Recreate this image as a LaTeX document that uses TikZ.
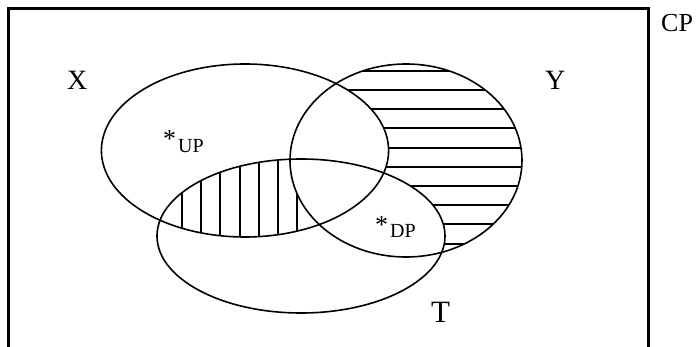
\documentclass[tikz,border=0pt]{standalone}
\usepackage{fontspec}
\setmainfont{Liberation Serif}

% the three sets
\def\setX{(245,150.5) ellipse [x radius=143.6, y radius=86.5]}
\def\setY{(406,160.5) ellipse [x radius=116, y radius=96.5]}
\def\setT{(301,236) ellipse [x radius=144, y radius=77]}
\def\frameall{(-10,-10) rectangle (710,360)}
\newcommand{\bigast}{\raisebox{5pt}{\fontsize{26}{30}\selectfont *}}

\tikzset{
  setline/.style={line width=1.6pt},
  hatchline/.style={line width=2pt},
  lbl/.style={inner sep=0pt, anchor=base west, font=\fontsize{28}{32}\selectfont},
  sublbl/.style={inner sep=0pt, anchor=base west, font=\fontsize{20}{24}\selectfont}
}

\begin{document}
\begin{tikzpicture}[x=1pt,y=-1pt]
  \useasboundingbox (0,0) rectangle (698,347);

  % Frame of the universe, open at the bottom
  \draw[line width=3pt] (8,350) -- (8,8.5) -- (648,8.5) -- (648,350);

  % Horizontal hatching: Y outside X and T
  \begin{scope}[even odd rule]
    \clip \setY;
    \clip \frameall \setX;
    \clip \frameall \setT;
    \foreach \hy in {71,90,109,128,148,167,186,205,224,244}
      \draw[hatchline] (280,\hy) -- (530,\hy);
  \end{scope}

  % Vertical hatching: X and T outside Y
  \begin{scope}[even odd rule]
    \clip \setX;
    \clip \setT;
    \clip \frameall \setY;
    \foreach \vx in {182,201,220,240,259,278,297}
      \draw[hatchline] (\vx,150) -- (\vx,245);
  \end{scope}

  % Outlines of the sets
  \draw[setline] \setX;
  \draw[setline] \setY;
  \draw[setline] \setT;

  % Labels
  \node[lbl] (lblX) at (67,90) {X};
  \node[lbl] (lblY) at (545,90) {Y};
  \node[lbl, font=\fontsize{31}{35}\selectfont] (lblT) at (431,322) {T};
  \node[lbl, font=\fontsize{26}{30}\selectfont] (lblCP) at (661,32) {CP};
  \node[sublbl] (lblUP) at (163,153) {\bigast\kern2pt UP};
  \node[sublbl] (lblDP) at (375,238) {\bigast\kern2pt DP};
\end{tikzpicture}
\end{document}
